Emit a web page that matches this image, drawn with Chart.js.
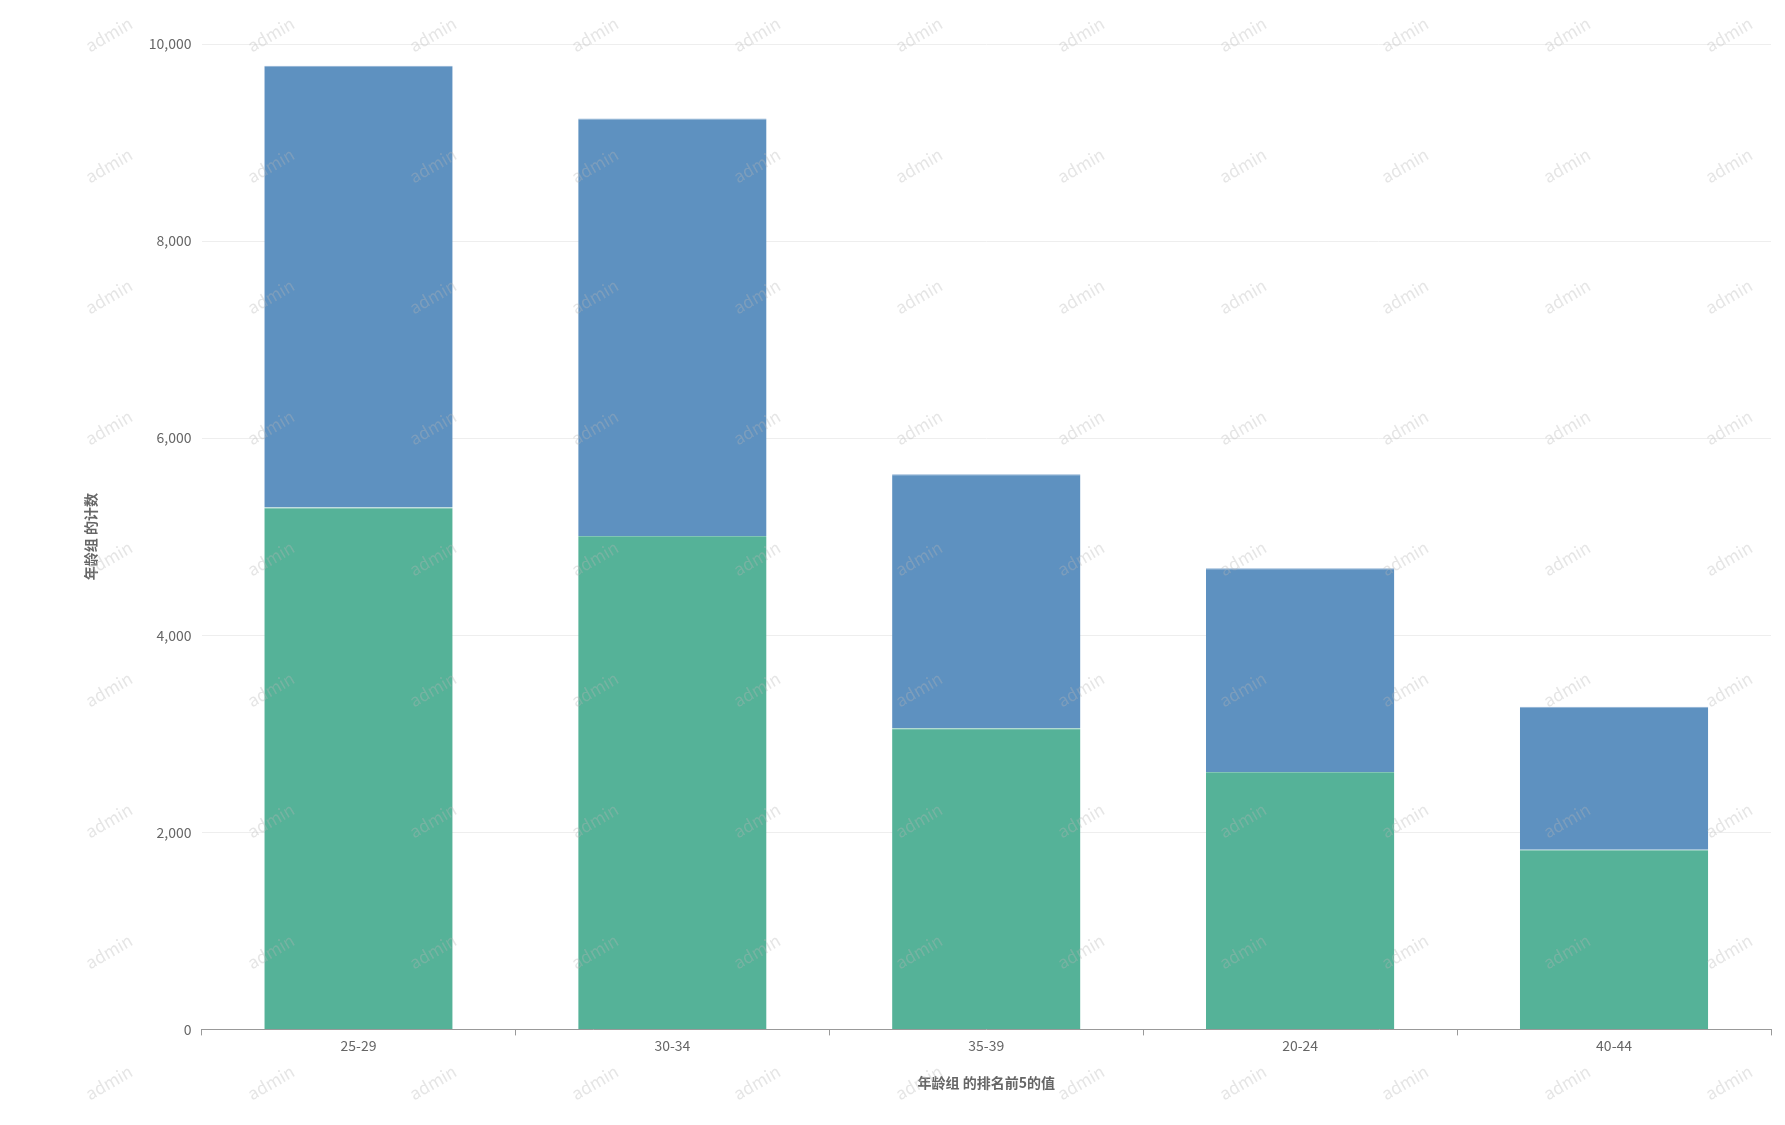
<!DOCTYPE html>
<html>
<head>
<meta charset="utf-8">
<script src="https://cdn.jsdelivr.net/npm/chart.js@4"></script>
<style>
html,body{margin:0;padding:0;background:#fff;}
#wrap{width:1785px;height:1125px;}
</style>
</head>
<body>
<div id="wrap"><canvas id="c"></canvas></div>
<script>
// age groups, top 5
const categories = ["25-29", "30-34", "35-39", "20-24", "40-44"];
const greenValues = [5296, 5006, 3055, 2613, 1823];
const blueValues = [4483, 4239, 2578, 2068, 1452];
const yTicks = [0, 2000, 4000, 6000, 8000, 10000];

const font = "'Noto Sans CJK SC', 'Noto Sans', sans-serif";

// watermark text
const watermark = {
    id: "watermark",
    afterDatasetsDraw(chart) {
        const ctx = chart.ctx;
        ctx.save();
        ctx.font = "17px " + font;
        ctx.fillStyle = "rgba(180,180,180,0.35)";
        for (let y = 40; y < 1125; y += 131) {
            for (let x = 112; x < 1785; x += 162) {
                ctx.save();
                ctx.translate(x, y);
                ctx.rotate(-Math.PI / 6);
                ctx.textAlign = "center";
                ctx.fillText("admin", 0, 0);
                ctx.restore();
            }
        }
        ctx.restore();
    }
};

new Chart(document.getElementById("c"), {
    type: "bar",
    data: {
        labels: categories,
        datasets: [
            {label: "green", data: greenValues, backgroundColor: "#55b298", borderColor: "#7fc6b2", borderWidth: {top: 1}, borderSkipped: "bottom"},
            {label: "blue", data: blueValues, backgroundColor: "#5e91c0", borderColor: "#8db0d3", borderWidth: {top: 1}, borderSkipped: "bottom"}
        ]
    },
    options: {
        responsive: true,
        maintainAspectRatio: false,
        animation: false,
        layout: {padding: {left: 78, right: 14, top: 44, bottom: 30}},
        plugins: {legend: {display: false}, tooltip: {enabled: false}},
        datasets: {bar: {barPercentage: 0.6, categoryPercentage: 1}},
        scales: {
            x: {
                stacked: true,
                grid: {display: true, drawOnChartArea: false, offset: true, color: "#999", tickLength: 6},
                border: {display: true, color: "#999"},
                ticks: {color: "#666", font: {family: font, size: 14}, padding: 2},
                title: {display: true, text: "年龄组 的排名前5的值", color: "#666", font: {family: font, size: 14, weight: "bold"}, padding: {top: 18}}
            },
            y: {
                stacked: true,
                min: 0,
                max: 10000,
                afterBuildTicks: axis => { axis.ticks = yTicks.map(v => ({value: v})); },
                grid: {color: "#eeeeee", drawTicks: false},
                border: {display: false},
                ticks: {color: "#666", font: {family: font, size: 14}, padding: 10,
                    callback: v => v.toLocaleString("en-US")},
                title: {display: true, text: "年龄组 的计数", color: "#666", font: {family: font, size: 14, weight: "bold"}, padding: {bottom: 40}}
            }
        }
    },
    plugins: [watermark]
});
</script>
</body>
</html>
